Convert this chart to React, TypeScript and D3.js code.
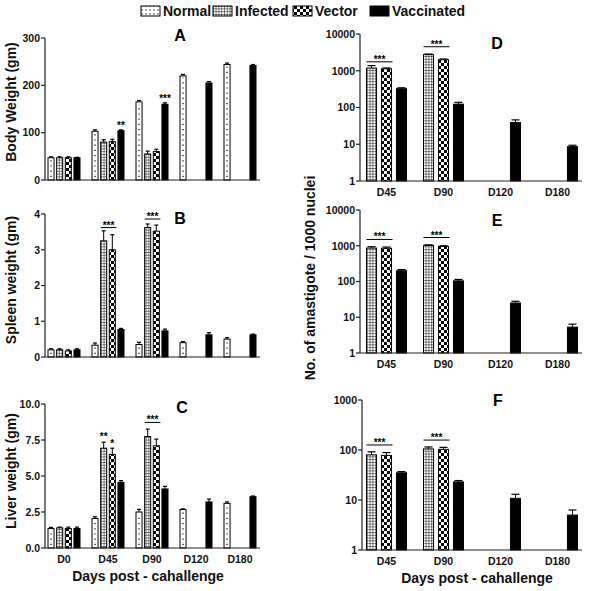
import React, { useEffect, useRef } from 'react';
import * as d3 from 'd3';

// ---------- data ----------
const seriesNames = ['Normal', 'Infected', 'Vector', 'Vaccinated'];
const rightSeries = ['Infected', 'Vector', 'Vaccinated'];
const daysLeft = ['D0', 'D45', 'D90', 'D120', 'D180'];
const daysRight = ['D45', 'D90', 'D120', 'D180'];

// A: body weight (gm)
const bodyNormal = [47, 103, 165, 220, 244];
const bodyInfected = [47, 80, 55, null, null];
const bodyVector = [47, 81, 60, null, null];
const bodyVaccinated = [47, 104, 160, 205, 242];
const bodyNormalErr = [2, 3, 3, 3, 3];
const bodyInfectedErr = [2, 5, 6, null, null];
const bodyVectorErr = [2, 5, 5, null, null];
const bodyVaccinatedErr = [1, 2, 3, 3, 2];

// B: spleen weight (gm)
const spleenNormal = [0.2, 0.33, 0.35, 0.4, 0.5];
const spleenInfected = [0.2, 3.25, 3.62, null, null];
const spleenVector = [0.17, 3.0, 3.52, null, null];
const spleenVaccinated = [0.2, 0.77, 0.73, 0.62, 0.62];
const spleenNormalErr = [0.03, 0.06, 0.06, 0.03, 0.04];
const spleenInfectedErr = [0.03, 0.28, 0.1, null, null];
const spleenVectorErr = [0.03, 0.42, 0.17, null, null];
const spleenVaccinatedErr = [0.03, 0.03, 0.05, 0.06, 0.02];

// C: liver weight (gm)
const liverNormal = [1.35, 2.05, 2.5, 2.67, 3.1];
const liverInfected = [1.4, 6.93, 7.74, null, null];
const liverVector = [1.35, 6.5, 7.1, null, null];
const liverVaccinated = [1.35, 4.56, 4.1, 3.2, 3.56];
const liverNormalErr = [0.08, 0.12, 0.18, 0.05, 0.1];
const liverInfectedErr = [0.05, 0.42, 0.52, null, null];
const liverVectorErr = [0.1, 0.43, 0.46, null, null];
const liverVaccinatedErr = [0.1, 0.12, 0.18, 0.2, 0.05];

// D, E, F: amastigotes / 1000 nuclei
const dInfected = [1180, 2750, null, null];
const dVector = [1130, 1990, null, null];
const dVaccinated = [324, 123, 39, 8.6];
const dInfectedErr = [200, 100, null, null];
const dVectorErr = [60, 100, null, null];
const dVaccinatedErr = [20, 15, 7, 0.8];

const eInfected = [860, 1020, null, null];
const eVector = [850, 960, null, null];
const eVaccinated = [200, 104, 25, 5.3];
const eInfectedErr = [80, 40, null, null];
const eVectorErr = [70, 40, null, null];
const eVaccinatedErr = [15, 10, 3, 1.1];

const fInfected = [80, 105, null, null];
const fVector = [78, 103, null, null];
const fVaccinated = [35, 23, 10.8, 5.0];
const fInfectedErr = [12, 10, null, null];
const fVectorErr = [11, 10, null, null];
const fVaccinatedErr = [2, 1.5, 2.2, 1.3];

// tick labels
const ticksA = [0, 100, 200, 300];
const ticksB = [0, 1, 2, 3, 4];
const ticksC = [0, 2.5, 5, 7.5, 10];
const ticksDE = [1, 10, 100, 1000, 10000];
const ticksF = [1, 10, 100, 1000];

// significance notes: level = data value of the mark
type Note = { day: string; series: string; to?: string; text: string; level: number };
const notesA: Note[] = [
  { day: 'D45', series: 'Vaccinated', text: '**', level: 120 },
  { day: 'D90', series: 'Vaccinated', text: '***', level: 177 },
];
const notesB: Note[] = [
  { day: 'D45', series: 'Infected', to: 'Vector', text: '***', level: 3.62 },
  { day: 'D90', series: 'Infected', to: 'Vector', text: '***', level: 3.86 },
];
const notesC: Note[] = [
  { day: 'D45', series: 'Infected', text: '**', level: 7.93 },
  { day: 'D45', series: 'Vector', text: '*', level: 7.44 },
  { day: 'D90', series: 'Infected', to: 'Vector', text: '***', level: 8.72 },
];
const notesD: Note[] = [
  { day: 'D45', series: 'Infected', to: 'Vector', text: '***', level: 1750 },
  { day: 'D90', series: 'Infected', to: 'Vector', text: '***', level: 4500 },
];
const notesE: Note[] = [
  { day: 'D45', series: 'Infected', to: 'Vector', text: '***', level: 1500 },
  { day: 'D90', series: 'Infected', to: 'Vector', text: '***', level: 1700 },
];
const notesF: Note[] = [
  { day: 'D45', series: 'Infected', to: 'Vector', text: '***', level: 126 },
  { day: 'D90', series: 'Infected', to: 'Vector', text: '***', level: 158 },
];

const FONT = "Arial, 'Liberation Sans', sans-serif";

type Panel = {
  cats: string[];
  series: string[];
  values: (number | null)[][];
  errors: (number | null)[][];
  log: boolean;
  domain: [number, number];
  ticks: number[];
  fmt: (d: number) => string;
  x0: number; x1: number; axisX0: number; axisX1: number;
  yTop: number; yBottom: number;
  groupWidth: number; pad: number;
  letter: string; letterX: number; letterY: number;
  showX: boolean;
  notes: Note[];
};

function fillFor(s: string) {
  if (s === 'Infected') return 'url(#pGrid)';
  if (s === 'Vector') return 'url(#pCheck)';
  if (s === 'Vaccinated') return '#000';
  return '#fff';
}

function drawPanel(g: d3.Selection<SVGGElement, unknown, null, undefined>, p: Panel) {
  const x = d3.scaleBand<string>().domain(p.cats).range([p.x0, p.x1]);
  const xi = d3.scaleBand<string>().domain(p.series).range([0, p.groupWidth]).paddingInner(p.pad);
  const y: any = p.log
    ? d3.scaleLog().domain(p.domain).range([p.yBottom, p.yTop])
    : d3.scaleLinear().domain(p.domain).range([p.yBottom, p.yTop]);
  const base = y(p.domain[0]);
  const w = xi.bandwidth();
  const bx = (c: string, s: string) => (x(c) as number) + x.bandwidth() / 2 - p.groupWidth / 2 + (xi(s) as number);

  p.series.forEach((s, si) => {
    p.cats.forEach((c, ci) => {
      const v = p.values[si][ci];
      if (v == null) return;
      const e = p.errors[si][ci] ?? 0;
      const x0 = bx(c, s);
      const yt = y(v);
      if (e > 0) {
        const ye = y(v + e);
        g.append('line').attr('x1', x0 + w / 2).attr('x2', x0 + w / 2).attr('y1', yt).attr('y2', ye)
          .attr('stroke', '#000').attr('stroke-width', 1);
        g.append('line').attr('x1', x0 + 1).attr('x2', x0 + w - 1).attr('y1', ye).attr('y2', ye)
          .attr('stroke', '#000').attr('stroke-width', 1.2);
      }
      g.append('rect').attr('x', x0).attr('y', yt).attr('width', w).attr('height', base - yt)
        .attr('fill', fillFor(s)).attr('stroke', '#000').attr('stroke-width', 1);
      if (s === 'Normal') {
        g.append('line').attr('x1', x0 + w / 2).attr('x2', x0 + w / 2).attr('y1', base - 3).attr('y2', yt + 2)
          .attr('stroke', '#000').attr('stroke-width', 1.2).attr('stroke-dasharray', '1.2 4');
      }
    });
  });

  // axes
  const axisColor = '#222';
  g.append('line').attr('x1', p.axisX0).attr('x2', p.axisX0).attr('y1', p.yBottom).attr('y2', p.yTop)
    .attr('stroke', axisColor).attr('stroke-width', 1.2);
  g.append('line').attr('x1', p.axisX0).attr('x2', p.axisX1).attr('y1', p.yBottom).attr('y2', p.yBottom)
    .attr('stroke', axisColor).attr('stroke-width', 1.2);
  p.ticks.forEach((t) => {
    g.append('line').attr('x1', p.axisX0 - 4).attr('x2', p.axisX0).attr('y1', y(t)).attr('y2', y(t))
      .attr('stroke', axisColor).attr('stroke-width', 1.2);
    g.append('text').attr('x', p.axisX0 - 5).attr('y', y(t)).attr('dy', '0.36em')
      .attr('text-anchor', 'end').attr('font-size', 10.5).attr('font-weight', 'bold')
      .attr('font-family', FONT).attr('fill', '#111').text(p.fmt(t));
  });
  if (p.showX) {
    p.cats.forEach((c) => {
      g.append('text').attr('x', (x(c) as number) + x.bandwidth() / 2).attr('y', p.yBottom + 15)
        .attr('text-anchor', 'middle').attr('font-size', 10.5).attr('font-weight', 'bold')
        .attr('font-family', FONT).attr('fill', '#111').text(c);
    });
  }
  g.append('text').attr('x', p.letterX).attr('y', p.letterY).attr('text-anchor', 'middle')
    .attr('font-size', 16).attr('font-weight', 'bold').attr('font-family', FONT).text(p.letter);

  // significance marks
  p.notes.forEach((n) => {
    const yl = y(n.level);
    if (n.to) {
      const xa = bx(n.day, n.series);
      const xb = bx(n.day, n.to) + w + 1;
      g.append('line').attr('x1', xa).attr('x2', xb).attr('y1', yl).attr('y2', yl)
        .attr('stroke', '#000').attr('stroke-width', 1);
      g.append('text').attr('x', (xa + xb) / 2).attr('y', yl + 1).attr('text-anchor', 'middle')
        .attr('font-size', 10).attr('font-weight', 'bold').attr('font-family', FONT).text(n.text);
    } else {
      const xc = bx(n.day, n.series) + w / 2;
      g.append('text').attr('x', xc).attr('y', yl + 6).attr('text-anchor', 'middle')
        .attr('font-size', 10).attr('font-weight', 'bold').attr('font-family', FONT).text(n.text);
    }
  });
}

export default function App() {
  const ref = useRef<SVGSVGElement>(null);
  useEffect(() => {
    const svg = d3.select(ref.current!);
    svg.selectAll('*').remove();
    const defs = svg.append('defs');
    const grid = defs.append('pattern').attr('id', 'pGrid').attr('patternUnits', 'userSpaceOnUse')
      .attr('width', 2.8).attr('height', 2.8);
    grid.append('rect').attr('width', 2.8).attr('height', 2.8).attr('fill', '#fff');
    grid.append('path').attr('d', 'M0 0.3H2.8M0.3 0V2.8').attr('stroke', '#000').attr('stroke-width', 0.6);
    const check = defs.append('pattern').attr('id', 'pCheck').attr('patternUnits', 'userSpaceOnUse')
      .attr('width', 6).attr('height', 6);
    check.append('rect').attr('width', 6).attr('height', 6).attr('fill', '#fff');
    check.append('rect').attr('width', 3).attr('height', 3).attr('fill', '#000');
    check.append('rect').attr('x', 3).attr('y', 3).attr('width', 3).attr('height', 3).attr('fill', '#000');
    const dots = defs.append('pattern').attr('id', 'pDots').attr('patternUnits', 'userSpaceOnUse')
      .attr('width', 4).attr('height', 4);
    dots.append('rect').attr('width', 4).attr('height', 4).attr('fill', '#fff');
    dots.append('circle').attr('cx', 2).attr('cy', 2).attr('r', 0.7).attr('fill', '#000');

    const root = svg.append('g');
    const lin = (d: number) => String(d);
    const f1 = d3.format('.1f');

    const left = { cats: daysLeft, series: seriesNames, log: false, x0: 42, x1: 262, axisX0: 45, axisX1: 260, groupWidth: 32, pad: 0.3 };
    drawPanel(root.append('g'), {
      ...left,
      values: [bodyNormal, bodyInfected, bodyVector, bodyVaccinated],
      errors: [bodyNormalErr, bodyInfectedErr, bodyVectorErr, bodyVaccinatedErr],
      domain: [0, 300], ticks: ticksA, fmt: lin, yTop: 38, yBottom: 180,
      letter: 'A', letterX: 180, letterY: 41, showX: false, notes: notesA,
    });
    drawPanel(root.append('g'), {
      ...left,
      values: [spleenNormal, spleenInfected, spleenVector, spleenVaccinated],
      errors: [spleenNormalErr, spleenInfectedErr, spleenVectorErr, spleenVaccinatedErr],
      domain: [0, 4], ticks: ticksB, fmt: lin, yTop: 214, yBottom: 357,
      letter: 'B', letterX: 180, letterY: 224, showX: false, notes: notesB,
    });
    drawPanel(root.append('g'), {
      ...left,
      values: [liverNormal, liverInfected, liverVector, liverVaccinated],
      errors: [liverNormalErr, liverInfectedErr, liverVectorErr, liverVaccinatedErr],
      domain: [0, 10], ticks: ticksC, fmt: f1, yTop: 404, yBottom: 548,
      letter: 'C', letterX: 182, letterY: 413, showX: true, notes: notesC,
    });

    const right = { cats: daysRight, series: rightSeries, log: true, x0: 358, x1: 586, axisX0: 360, axisX1: 582, groupWidth: 40, pad: 0.33 };
    drawPanel(root.append('g'), {
      ...right,
      values: [dInfected, dVector, dVaccinated],
      errors: [dInfectedErr, dVectorErr, dVaccinatedErr],
      domain: [1, 10000], ticks: ticksDE, fmt: lin, yTop: 34, yBottom: 181,
      letter: 'D', letterX: 497, letterY: 49, showX: true, notes: notesD,
    });
    drawPanel(root.append('g'), {
      ...right,
      values: [eInfected, eVector, eVaccinated],
      errors: [eInfectedErr, eVectorErr, eVaccinatedErr],
      domain: [1, 10000], ticks: ticksDE, fmt: lin, yTop: 210, yBottom: 353,
      letter: 'E', letterX: 497, letterY: 226, showX: true, notes: notesE,
    });
    drawPanel(root.append('g'), {
      ...right, axisX0: 362,
      values: [fInfected, fVector, fVaccinated],
      errors: [fInfectedErr, fVectorErr, fVaccinatedErr],
      domain: [1, 1000], ticks: ticksF, fmt: lin, yTop: 400, yBottom: 550,
      letter: 'F', letterX: 498, letterY: 406, showX: true, notes: notesF,
    });

    // axis titles
    const title = (x: number, y: number, txt: string, rot = false) => {
      const t = root.append('text').attr('font-size', 14).attr('font-weight', 'bold')
        .attr('font-family', FONT).attr('text-anchor', 'middle').attr('fill', '#111').text(txt);
      if (rot) t.attr('transform', `translate(${x},${y}) rotate(-90)`);
      else t.attr('x', x).attr('y', y);
    };
    title(16, 102, 'Body Weight (gm)', true);
    title(16, 280, 'Spleen weight (gm)', true);
    title(16, 471, 'Liver weight (gm)', true);
    title(315, 278, 'No. of amastigote / 1000 nuclei', true);
    title(148, 581, 'Days post - cahallenge');
    title(477, 583, 'Days post - cahallenge');

    // legend
    const legendFill: Record<string, string> = {
      Normal: 'url(#pDots)', Infected: 'url(#pGrid)', Vector: 'url(#pCheck)', Vaccinated: '#000',
    };
    const legendX = [141, 213, 293, 370];
    seriesNames.forEach((s, i) => {
      root.append('rect').attr('x', legendX[i]).attr('y', 6).attr('width', 19).attr('height', 10)
        .attr('fill', legendFill[s]).attr('stroke', '#000').attr('stroke-width', 1);
      root.append('text').attr('x', legendX[i] + 22).attr('y', 16).attr('font-size', 14)
        .attr('font-weight', 'bold').attr('font-family', FONT).attr('fill', '#111').text(s);
    });
  }, []);
  return (
    <svg ref={ref} width={591} height={591} style={{ position: 'absolute', left: 0, top: 0, background: '#fff' }} />
  );
}
